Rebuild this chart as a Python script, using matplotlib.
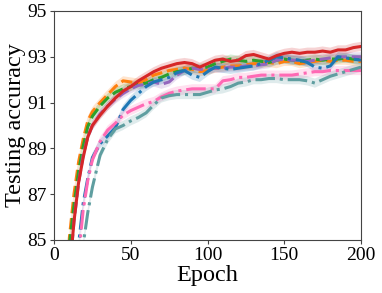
import numpy as np
import matplotlib.pyplot as plt

plt.rcParams['font.family'] = ['Liberation Serif', 'DejaVu Serif']

# --- Data ---
epochs = [5, 10, 13, 16, 19, 22, 25, 30, 35, 40, 45, 50, 55, 60, 65, 70, 75, 80,
          85, 90, 95, 100, 105, 110, 115, 120, 125, 130, 135, 140, 145, 150,
          155, 160, 165, 170, 175, 180, 185, 190, 195, 200]

acc_orange = [78, 85.1, 87.0, 88.4, 89.4, 90.2, 90.6, 91.0, 91.35, 91.7, 91.95, 91.9,
              91.85, 92.0, 92.2, 92.3, 92.4, 92.45, 92.5, 92.45, 92.35, 92.4, 92.5,
              92.55, 92.6, 92.6, 92.65, 92.7, 92.7, 92.75, 92.7, 92.8, 92.8, 92.7,
              92.75, 92.8, 92.85, 92.8, 92.85, 92.85, 92.8, 92.8]
acc_green = [78, 84.8, 86.5, 88.0, 89.1, 89.95, 90.4, 90.85, 91.2, 91.45, 91.6, 91.7,
             91.8, 91.85, 92.0, 92.1, 92.25, 92.35, 92.4, 92.5, 92.5, 92.55, 92.7,
             92.8, 92.9, 92.85, 92.8, 92.85, 92.8, 92.75, 92.85, 92.9, 92.85, 92.8,
             92.85, 92.9, 92.85, 92.9, 92.9, 92.95, 92.9, 92.9]
acc_purple = [77, 83.5, 85.8, 87.5, 88.7, 89.5, 90.0, 90.5, 90.85, 91.15, 91.4, 91.6,
              91.75, 91.8, 91.9, 91.8, 91.9, 92.2, 92.4, 92.5, 92.45, 92.45, 92.5,
              92.5, 92.55, 92.55, 92.6, 92.6, 92.65, 92.7, 92.85, 92.9, 92.85, 92.85,
              92.8, 92.85, 92.9, 92.95, 93.0, 93.0, 93.0, 93.0]
acc_red = [78, 83.5, 85.8, 87.5, 88.6, 89.5, 90.0, 90.45, 90.85, 91.2, 91.5, 91.7,
           91.95, 92.15, 92.35, 92.5, 92.6, 92.7, 92.75, 92.7, 92.55, 92.7, 92.85,
           92.9, 92.8, 92.85, 93.05, 93.1, 93.0, 92.9, 93.05, 93.15, 93.2, 93.15,
           93.2, 93.2, 93.25, 93.2, 93.3, 93.3, 93.4, 93.45]
acc_blue = [75, 80, 83.2, 84.8, 86.6, 87.7, 88.6, 89.2, 89.55, 89.9, 90.7, 91.1,
            91.4, 91.7, 91.9, 92.0, 92.1, 92.3, 92.4, 92.2, 92.1, 92.35, 92.55,
            92.5, 92.45, 92.5, 92.55, 92.6, 92.7, 92.85, 93.0, 92.95, 92.9, 92.85,
            92.75, 92.55, 92.5, 92.6, 93.0, 92.95, 92.9, 92.85]
acc_pink = [74, 79, 82, 84.3, 86.3, 87.6, 88.5, 89.3, 89.8, 90.1, 90.45, 90.65,
            90.8, 90.95, 91.05, 91.25, 91.4, 91.5, 91.55, 91.6, 91.6, 91.6, 91.6,
            91.95, 92.0, 92.1, 92.1, 92.15, 92.2, 92.2, 92.2, 92.2, 92.2, 92.25,
            92.3, 92.35, 92.35, 92.4, 92.4, 92.4, 92.4, 92.4]
acc_teal = [72, 76, 78.5, 81.5, 84.8, 86.2, 87.3, 88.7, 89.4, 89.85, 90.0, 90.2,
            90.35, 90.55, 90.9, 91.2, 91.3, 91.35, 91.35, 91.35, 91.35, 91.45, 91.55,
            91.6, 91.7, 91.85, 91.9, 92.0, 92.0, 92.05, 92.05, 92.0, 92.0, 92.0,
            91.95, 91.85, 92.0, 92.15, 92.25, 92.35, 92.45, 92.55]

band = 0.2  # half-width of shaded spread

series = [
    (acc_orange, 'tab:orange', '--'),
    (acc_green, 'tab:green', '--'),
    (acc_purple, 'tab:purple', '--'),
    (acc_blue, 'tab:blue', '-.'),
    (acc_pink, 'hotpink', '-.'),
    (acc_teal, 'cadetblue', '-.'),
    (acc_red, 'tab:red', '-'),
]

fig = plt.figure(figsize=(3.82, 2.93), dpi=100)
ax = fig.add_axes([0.1414, 0.181, 0.8036, 0.7815])

x = np.array(epochs)
for vals, color, ls in series:
    y = np.array(vals)
    ax.fill_between(x, y - band, y + band, color=color, alpha=0.2, lw=0)
    ax.plot(x, y, color=color, ls=ls, lw=2.2)

ax.set_xlim(0, 200)
ax.set_ylim(85, 95)
ax.set_xticks([0, 50, 100, 150, 200])
ax.set_yticks([85, 87, 89, 91, 93, 95])
ax.tick_params(labelsize=14, length=3, color='#444444', pad=2)
for s in ax.spines.values():
    s.set_color('#444444')
ax.set_xlabel('Epoch', fontsize=17.5, labelpad=1)
ax.set_ylabel('Testing accuracy', fontsize=17.5, labelpad=1)

fig.savefig('out.png', dpi=100)
